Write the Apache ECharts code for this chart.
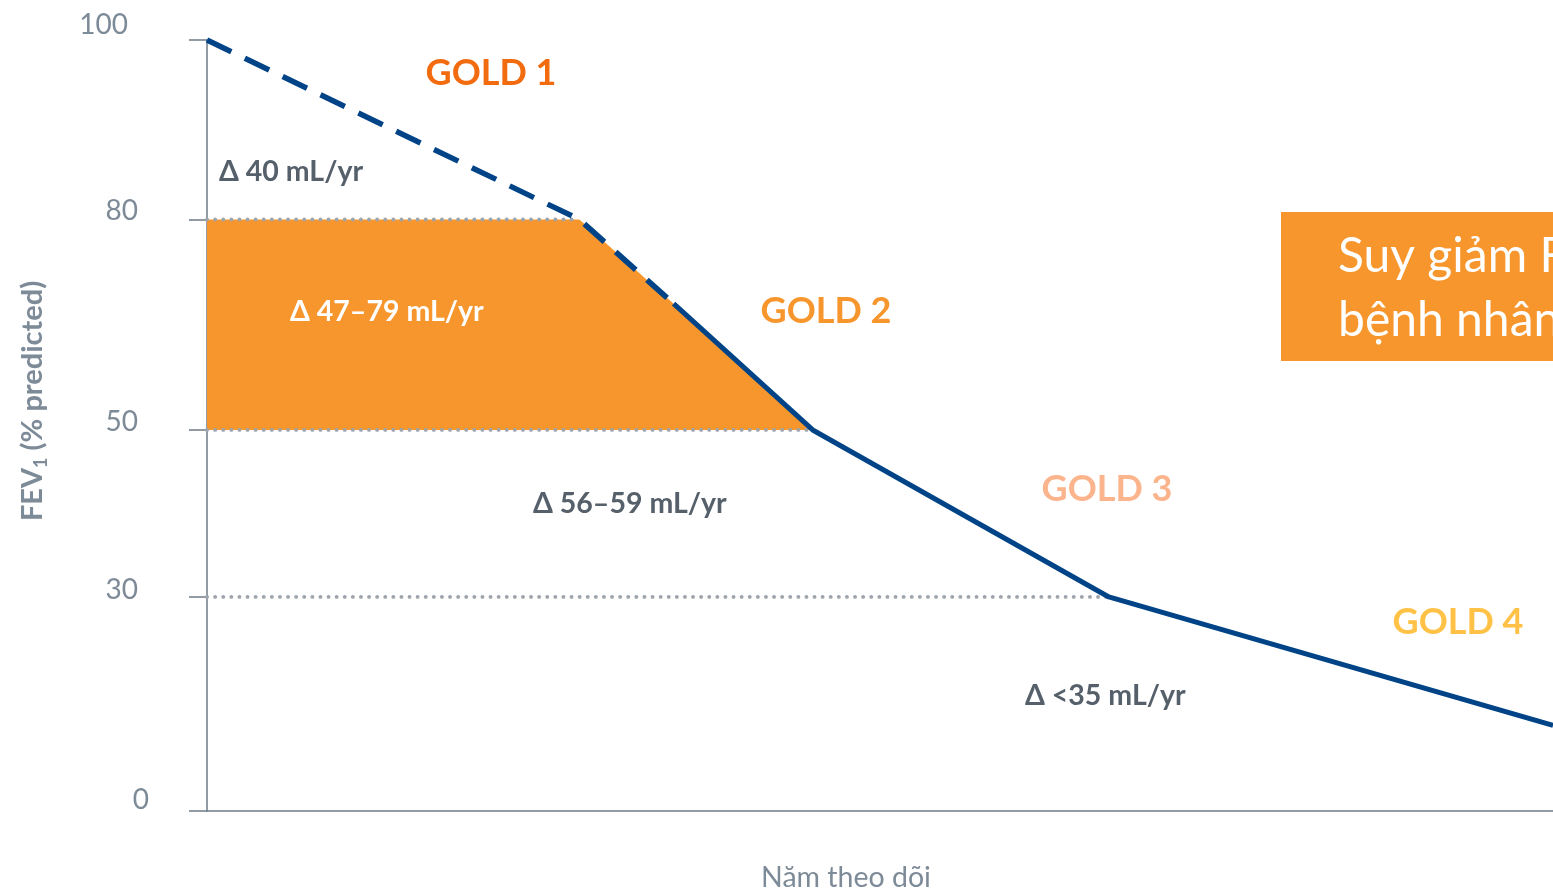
<!DOCTYPE html>
<html>
<head>
<meta charset="utf-8">
<script src="https://cdn.jsdelivr.net/npm/echarts@6/dist/echarts.min.js"></script>
<style>
  html, body { margin: 0; padding: 0; background: #ffffff; }
  #chart { width: 1553px; height: 892px; }
</style>
</head>
<body>
<div id="chart"></div>
<script>
// FEV1 decline over years of follow-up, by GOLD stage (schematic)

// y-axis tick values and their relative height on the (unevenly spaced) axis
const yTickValues = [0, 30, 50, 80, 100];
const yTickSpan = [0, 0.2776, 0.4942, 0.7672, 1];

// follow-up years shown on the x axis
const yearsMax = 30;

// early phase (dashed): FEV1 % predicted
const earlyYears = [0, 8.3, 10.4];
const earlyFev = [100, 80, 68];

// later phase (solid)
const lateYears = [10.4, 13.5, 20.1, 30];
const lateFev = [68, 50, 30, 12];

// GOLD thresholds drawn as dotted guide lines
const thresholds = [80, 50, 30];

const stageLabels = ['GOLD 1', 'GOLD 2', 'GOLD 3', 'GOLD 4'];
const declineLabels = ['\u0394 40 mL/yr', '\u0394 47\u201379 mL/yr', '\u0394 56\u201359 mL/yr', '\u0394 <35 mL/yr'];
const boxLines = ['Suy giảm FEV\u2081 ở', 'bệnh nhân COPD'];
const xTitle = 'Năm theo dõi';

const FONT = 'Lato, "Open Sans", "Noto Sans", sans-serif';
const AXIS_GREY = '#6F7B87';
const LABEL_GREY = '#7D8A97';
const TEXT_GREY = '#56606B';
const NAVY = '#004487';
const ORANGE = '#F7962D';

// map an FEV1 value to its position on the schematic axis (0..1)
function warp(v) {
  for (let i = 1; i < yTickValues.length; i++) {
    if (v <= yTickValues[i]) {
      const t = (v - yTickValues[i - 1]) / (yTickValues[i] - yTickValues[i - 1]);
      return yTickSpan[i - 1] + t * (yTickSpan[i] - yTickSpan[i - 1]);
    }
  }
  return 1;
}

const allYears = earlyYears.concat(lateYears.slice(1));
const allFev = earlyFev.concat(lateFev.slice(1));

function yearAt(fev) {
  const i = allFev.indexOf(fev);
  return allYears[i];
}

// GOLD 2 band: between 80 and 50, bounded on the right by the curve
const bandPts = [[0, 80]];
allFev.forEach((f, i) => { if (f <= 80 && f >= 50) bandPts.push([allYears[i], f]); });
bandPts.push([0, 50]);

const tickPositions = yTickValues.map(warp);

const labelRich = {
  t0: { padding: [0, 0, 22, 0] },
  t1: { padding: [0, 11, 14, 0] },
  t2: { padding: [0, 11, 16, 0] },
  t3: { padding: [0, 11, 18, 0] },
  t4: { padding: [0, 21, 30, 0] }
};
Object.values(labelRich).forEach(s => {
  s.fontFamily = FONT; s.fontSize = 28; s.color = LABEL_GREY;
});

const chart = echarts.init(document.getElementById('chart'), null, { renderer: 'canvas' });

const guideSeries = thresholds.map(v => ({
  type: 'line',
  silent: true,
  symbol: 'none',
  z: 2,
  data: [[0, warp(v)], [yearAt(v), warp(v)]],
  lineStyle: { color: '#9DA4AC', width: 3.8, type: [0.1, 8], cap: 'round' }
}));

const textItem = (txt, x, y, color, size, weight, align) => ({
  type: 'text',
  x: x, y: y,
  z: 10,
  style: {
    text: txt, fill: color, fontFamily: FONT, fontSize: size,
    fontWeight: weight, align: align, verticalAlign: 'middle'
  }
});

const option = {
  animation: false,
  backgroundColor: '#ffffff',
  grid: { left: 207, right: 0, top: 40, bottom: 81, containLabel: false },
  xAxis: {
    type: 'value',
    min: 0,
    max: yearsMax,
    axisLine: { show: true, lineStyle: { color: AXIS_GREY, width: 1.5 } },
    axisTick: { show: false },
    axisLabel: { show: false },
    splitLine: { show: false }
  },
  yAxis: {
    type: 'value',
    min: 0,
    max: 1,
    axisLine: { show: true, lineStyle: { color: AXIS_GREY, width: 1.5 } },
    axisTick: {
      show: true, inside: false, length: 18,
      customValues: tickPositions,
      lineStyle: { color: AXIS_GREY, width: 1.5 }
    },
    axisLabel: {
      show: true,
      margin: 58,
      customValues: tickPositions,
      formatter: function (val) {
        let best = 0;
        tickPositions.forEach((p, i) => {
          if (Math.abs(p - val) < Math.abs(tickPositions[best] - val)) best = i;
        });
        return '{t' + best + '|' + yTickValues[best] + '}';
      },
      rich: labelRich
    },
    splitLine: { show: false }
  },
  series: [
    {
      type: 'custom',
      silent: true,
      z: 1,
      clip: false,
      data: bandPts.map(p => [p[0], warp(p[1])]),
      renderItem: function (params, api) {
        if (params.dataIndex !== 0) return null;
        const pts = bandPts.map(p => api.coord([p[0], warp(p[1])]));
        return { type: 'polygon', shape: { points: pts }, style: { fill: ORANGE } };
      }
    },
    ...guideSeries,
    {
      type: 'line',
      silent: true,
      symbol: 'none',
      z: 5,
      data: earlyYears.map((x, i) => [x, warp(earlyFev[i])]),
      lineStyle: { color: NAVY, width: 5.5, type: [27, 15] }
    },
    {
      type: 'line',
      silent: true,
      symbol: 'none',
      z: 5,
      data: lateYears.map((x, i) => [x, warp(lateFev[i])]),
      lineStyle: { color: NAVY, width: 5, type: 'solid' }
    }
  ],
  graphic: [
    textItem(stageLabels[0], 491, 73, '#F26B0F', 36, 'bold', 'center'),
    textItem(stageLabels[1], 826, 311, ORANGE, 36, 'bold', 'center'),
    textItem(stageLabels[2], 1107, 489, '#FBB48C', 36, 'bold', 'center'),
    textItem(stageLabels[3], 1458, 622, '#FFC246', 36, 'bold', 'center'),
    textItem(declineLabels[0], 219, 172, TEXT_GREY, 28.5, 'bold', 'left'),
    textItem(declineLabels[1], 290, 312, '#FFFFFF', 28.5, 'bold', 'left'),
    textItem(declineLabels[2], 533, 504, TEXT_GREY, 28.5, 'bold', 'left'),
    textItem(declineLabels[3], 1025, 696, TEXT_GREY, 28.5, 'bold', 'left'),
    {
      type: 'rect',
      z: 8,
      shape: { x: 1281, y: 212, width: 320, height: 149 },
      style: { fill: ORANGE }
    },
    textItem(boxLines[0], 1338, 257, '#FFFFFF', 48, 'normal', 'left'),
    textItem(boxLines[1], 1338, 321, '#FFFFFF', 48, 'normal', 'left'),
    textItem(xTitle, 846, 878, LABEL_GREY, 28.5, 'normal', 'center'),
    {
      type: 'text',
      x: 33, y: 401,
      rotation: Math.PI / 2,
      z: 10,
      style: {
        text: '{b|FEV}{s|1}{b| (% predicted)}',
        align: 'center',
        verticalAlign: 'middle',
        rich: {
          b: { fontFamily: FONT, fontSize: 29, fontWeight: 'bold', fill: LABEL_GREY, lineHeight: 34, verticalAlign: 'middle' },
          s: { fontFamily: FONT, fontSize: 18, fontWeight: 'bold', fill: LABEL_GREY, lineHeight: 34, verticalAlign: 'bottom', padding: [14, 0, 0, 0] }
        }
      }
    }
  ]
};

chart.setOption(option);
</script>
</body>
</html>
